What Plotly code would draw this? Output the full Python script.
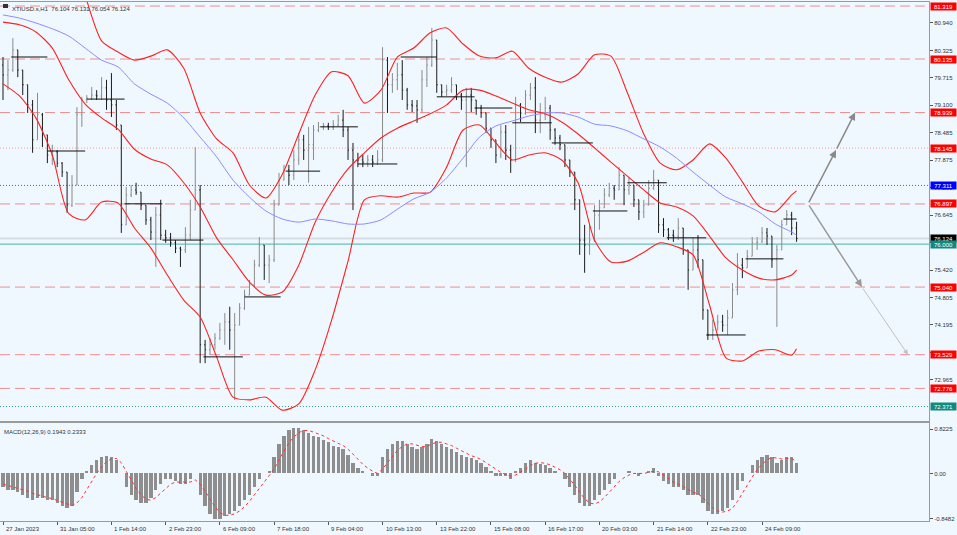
import plotly.graph_objects as go

# ---------------- data ----------------
bar_idx = list(range(0, 486, 3))  # H1 bar index of each plotted bar

opens = [80.00,79.78,79.89,80.34,79.89,79.56,79.11,78.33,78.89,78.44,
77.99,78.06,77.81,77.61,76.87,77.32,78.89,79.22,79.26,79.33,
79.31,79.49,79.22,79.11,78.66,76.43,77.10,77.21,77.16,76.87,
76.54,76.27,76.65,76.20,76.14,76.03,75.91,75.87,76.20,76.76,
77.21,73.75,73.64,73.75,73.90,74.08,74.26,74.08,74.19,74.57,
74.86,75.09,75.53,75.98,75.53,75.65,76.87,77.43,77.66,77.54,
77.88,78.33,78.10,78.22,78.55,78.62,78.64,78.62,78.66,78.77,
78.55,78.10,77.88,77.88,77.83,77.88,77.83,77.88,80.11,79.56,
79.67,79.78,79.44,79.11,79.09,79.00,79.67,80.00,80.56,79.56,
79.40,79.44,79.56,79.33,79.22,79.33,79.22,79.04,78.93,78.59,
78.33,77.99,78.50,78.10,77.88,79.11,78.93,79.33,79.49,78.77,
78.89,79.04,78.55,78.37,78.22,77.88,77.61,76.99,76.09,75.98,
76.09,76.65,76.81,77.10,77.25,77.21,77.54,77.21,77.32,76.99,
76.72,76.87,77.25,77.43,76.43,76.32,76.20,76.18,76.36,75.87,
75.42,75.87,75.65,74.53,73.97,74.08,74.26,74.19,74.35,74.98,
75.53,75.47,75.73,76.03,76.05,76.25,76.18,75.65,75.87,76.43,
76.65,76.36]

highs = [80.18,80.11,80.60,80.34,79.89,79.56,79.22,79.38,78.93,78.44,
78.22,78.10,77.83,77.61,77.54,79.06,79.29,79.33,79.51,79.44,
79.73,79.67,79.82,79.22,78.66,77.28,77.32,77.37,77.16,76.87,
76.61,76.83,76.99,76.32,76.25,76.09,75.94,76.38,76.99,78.17,
77.32,73.86,73.90,74.01,74.24,74.46,74.60,74.46,74.68,74.98,
75.20,75.65,76.16,75.98,75.76,76.99,77.59,77.77,77.77,78.10,
78.48,78.44,78.62,78.66,78.73,78.71,78.71,78.77,78.89,79.00,
78.62,78.26,78.04,77.99,77.99,77.99,78.10,80.40,80.18,79.82,
80.05,80.11,79.49,79.22,79.22,79.89,80.18,80.83,80.56,79.56,
79.56,79.73,79.56,79.38,79.49,79.49,79.22,79.11,78.93,78.59,
78.33,78.66,78.66,78.22,79.29,79.15,79.44,79.60,79.73,79.15,
79.29,79.11,78.59,78.44,78.22,77.88,77.61,76.99,76.43,76.43,
76.87,76.99,77.25,77.37,77.32,77.72,77.54,77.50,77.32,76.99,
76.99,77.43,77.66,77.43,76.58,76.36,76.32,76.58,76.36,75.87,
76.14,76.20,75.65,74.53,74.31,74.42,74.42,74.53,75.13,75.80,
75.69,75.87,76.16,76.16,76.38,76.36,76.18,75.98,76.54,76.76,
76.72,76.50]

lows = [79.22,79.44,79.85,79.73,79.33,78.93,78.04,78.33,78.17,77.81,
77.77,77.72,77.50,76.70,76.83,77.32,78.62,79.15,79.22,79.22,
79.22,79.00,78.84,78.55,76.25,76.43,77.05,77.10,76.76,76.43,
76.09,75.49,76.09,76.03,75.94,75.80,75.49,75.80,76.09,76.76,
73.34,73.34,73.52,73.64,73.86,73.75,73.64,72.52,74.19,74.53,
74.86,75.04,75.49,75.20,75.13,75.60,76.87,77.43,77.32,77.43,
77.77,77.88,77.37,77.88,78.50,78.55,78.55,78.55,78.62,78.39,
77.88,76.76,77.72,77.72,77.72,77.72,77.77,77.83,78.93,79.38,
79.44,79.22,79.00,78.95,78.71,78.95,79.51,79.96,79.38,79.29,
79.31,79.38,79.22,79.00,77.72,78.95,78.89,78.82,78.48,78.15,
77.81,77.92,77.88,77.59,77.83,78.73,78.89,79.22,78.48,78.48,
78.77,78.33,78.22,78.10,77.72,77.50,76.76,75.76,75.36,75.76,
76.05,76.32,76.81,77.05,76.99,77.21,76.87,77.10,76.83,76.54,
76.58,76.87,77.21,76.25,76.16,76.09,76.05,76.09,75.76,74.98,
75.42,75.47,74.31,73.86,73.86,74.08,74.04,73.97,74.35,74.86,
75.24,75.47,75.73,75.87,76.03,75.98,75.47,74.15,75.87,76.43,
76.20,76.05]

closes = [79.78,79.89,80.34,79.89,79.56,79.11,78.33,78.89,78.44,77.99,
78.06,77.81,77.61,76.87,77.32,78.89,79.22,79.26,79.33,79.31,
79.49,79.22,79.11,78.66,76.43,77.10,77.21,77.16,76.87,76.54,
76.27,76.65,76.20,76.14,76.03,75.91,75.87,76.20,76.76,77.21,
73.75,73.64,73.75,73.90,74.08,74.26,74.08,74.19,74.57,74.86,
75.09,75.53,75.98,75.53,75.65,76.87,77.43,77.66,77.54,77.88,
78.33,78.10,78.22,78.55,78.62,78.64,78.62,78.66,78.77,78.55,
78.10,77.88,77.88,77.83,77.88,77.83,77.88,80.11,79.56,79.67,
79.78,79.44,79.11,79.09,79.00,79.67,80.00,80.56,79.56,79.40,
79.44,79.56,79.33,79.22,79.33,79.22,79.04,78.93,78.59,78.33,
77.99,78.50,78.10,77.88,79.11,78.93,79.33,79.49,78.77,78.89,
79.04,78.55,78.37,78.22,77.88,77.61,76.99,76.09,75.98,76.09,
76.65,76.81,77.10,77.25,77.21,77.54,77.21,77.32,76.99,76.72,
76.87,77.25,77.43,76.43,76.32,76.20,76.18,76.36,75.87,75.42,
75.87,75.65,74.53,73.97,74.08,74.26,74.19,74.35,74.98,75.53,
75.47,75.73,76.03,76.05,76.25,76.18,75.65,75.87,76.43,76.65,
76.36,76.124]

# Bollinger-style bands and moving average (sampled every 10 H1 bars)
band_idx = list(range(0, 490, 10)) + [483]
bb_upper = [82.34,82.49,82.66,82.77,82.64,81.55,80.54,80.29,80.11,80.20,
80.34,79.93,78.93,78.35,78.04,77.32,77.03,77.56,78.46,79.33,
79.85,79.76,79.15,79.44,80.18,80.38,80.72,80.83,80.47,80.20,
80.16,80.31,79.93,79.73,79.62,79.80,80.23,80.20,79.38,78.46,
77.81,77.66,77.88,78.24,77.92,77.39,76.85,76.72,77.10,77.19]
bb_middle = [80.96,80.90,80.74,80.38,79.67,79.13,78.82,78.57,78.12,77.90,
77.77,77.37,76.83,76.14,75.65,75.15,74.86,74.93,75.53,76.49,
77.16,77.68,78.04,78.37,78.59,78.75,78.91,79.11,79.44,79.44,
79.31,79.15,79.00,78.91,78.73,78.46,78.15,77.83,77.52,77.21,
76.92,76.83,76.63,76.18,75.69,75.42,75.24,75.20,75.31,75.42]
bb_lower = [79.58,79.31,78.82,77.99,76.68,76.54,76.94,76.92,76.36,75.91,
75.31,74.75,74.37,73.48,72.58,72.52,72.58,72.29,72.43,73.19,
74.30,75.62,76.99,77.08,77.05,77.14,77.16,77.72,78.55,78.66,
78.26,77.88,77.99,78.04,77.88,77.37,76.09,75.60,75.62,75.82,
76.03,75.94,75.76,74.64,73.46,73.39,73.61,73.64,73.52,73.66]
ma_long = [81.12,81.05,80.94,80.81,80.65,80.38,80.11,79.96,79.58,79.35,
79.15,78.82,78.39,77.95,77.43,77.05,76.74,76.56,76.49,76.56,
76.52,76.45,76.45,76.54,76.78,77.01,77.16,77.48,77.92,78.39,
78.64,78.75,78.86,78.93,78.93,78.84,78.68,78.64,78.53,78.35,
78.17,77.92,77.61,77.32,77.05,76.90,76.72,76.45,76.27,76.20]

# daily reference segments (start bar, end bar, level)
seg_start = [5,27,51,74,97,122,147,172,193,216,242,264,287,310,334,359,380,404,428,452,475]
seg_end   = [27,50,74,97,122,146,169,193,216,240,264,287,310,334,359,380,404,428,452,475,483]
seg_level = [80.18,78.08,79.24,76.90,76.09,73.48,74.82,77.63,78.62,77.79,
             80.18,79.29,79.04,78.71,78.26,76.74,77.37,76.14,73.97,75.67,76.56]

# MACD main (histogram) and signal
macd_main = [-0.25,-0.3,-0.3,-0.35,-0.4,-0.45,-0.5,-0.45,-0.45,-0.5,
-0.5,-0.55,-0.6,-0.65,-0.6,-0.35,-0.1,0.05,0.15,0.25,
0.3,0.32,0.3,0.25,0.0,-0.25,-0.4,-0.5,-0.55,-0.55,
-0.45,-0.3,-0.2,-0.1,-0.1,-0.15,-0.2,-0.2,-0.1,0.0,
-0.4,-0.6,-0.75,-0.85,-0.85,-0.8,-0.75,-0.7,-0.6,-0.5,
-0.4,-0.25,-0.1,0.0,0.05,0.3,0.55,0.7,0.8,0.85,
0.85,0.8,0.75,0.7,0.68,0.62,0.58,0.52,0.5,0.45,
0.35,0.2,0.1,0.05,0.0,-0.05,-0.05,0.3,0.45,0.55,
0.6,0.6,0.55,0.5,0.45,0.5,0.55,0.65,0.6,0.55,
0.5,0.45,0.4,0.35,0.3,0.28,0.25,0.2,0.12,0.05,
-0.05,-0.05,-0.05,-0.1,0.05,0.1,0.2,0.25,0.2,0.18,
0.15,0.1,0.05,0.0,-0.1,-0.25,-0.4,-0.55,-0.6,-0.6,
-0.5,-0.4,-0.3,-0.2,-0.1,0.0,0.0,0.05,0.0,-0.05,
0.0,0.05,0.1,-0.05,-0.15,-0.2,-0.25,-0.25,-0.3,-0.4,
-0.4,-0.4,-0.55,-0.7,-0.75,-0.75,-0.7,-0.65,-0.5,-0.3,
-0.15,0.0,0.15,0.25,0.3,0.35,0.3,0.2,0.25,0.3,
0.3,0.1943]
macd_signal = [-0.2,-0.22,-0.25,-0.28,-0.3,-0.33,-0.37,-0.4,-0.43,-0.45,
-0.47,-0.5,-0.53,-0.57,-0.6,-0.55,-0.45,-0.3,-0.15,0.0,
0.12,0.22,0.27,0.28,0.2,0.05,-0.12,-0.28,-0.4,-0.48,
-0.5,-0.45,-0.37,-0.28,-0.2,-0.16,-0.16,-0.17,-0.16,-0.12,
-0.2,-0.33,-0.48,-0.62,-0.73,-0.78,-0.78,-0.75,-0.7,-0.62,
-0.52,-0.4,-0.28,-0.15,-0.05,0.08,0.25,0.42,0.57,0.68,
0.76,0.8,0.8,0.77,0.74,0.7,0.65,0.6,0.56,0.52,
0.45,0.36,0.26,0.17,0.1,0.04,0.0,0.08,0.2,0.32,
0.43,0.5,0.55,0.55,0.52,0.5,0.5,0.55,0.58,0.58,
0.55,0.52,0.47,0.42,0.37,0.33,0.3,0.26,0.2,0.14,
0.07,0.02,-0.02,-0.05,-0.03,0.02,0.08,0.15,0.19,0.2,
0.19,0.16,0.12,0.07,0.0,-0.1,-0.22,-0.35,-0.47,-0.55,
-0.57,-0.53,-0.45,-0.35,-0.25,-0.15,-0.08,-0.03,0.0,0.0,
0.0,0.02,0.04,0.03,-0.03,-0.1,-0.16,-0.2,-0.24,-0.3,
-0.35,-0.38,-0.45,-0.55,-0.64,-0.7,-0.72,-0.7,-0.65,-0.52,
-0.38,-0.22,-0.07,0.07,0.17,0.25,0.3,0.28,0.27,0.28,
0.27,0.2333]

# time axis
time_ticks = [0,33,66,99,132,165,198,231,264,297,330,363,396,429,462]
time_labels = ["27 Jan 2023","31 Jan 05:00","1 Feb 14:00","2 Feb 23:00","6 Feb 09:00",
               "7 Feb 18:00","9 Feb 04:00","10 Feb 13:00","13 Feb 22:00","15 Feb 08:00",
               "16 Feb 17:00","20 Feb 03:00","21 Feb 14:00","22 Feb 23:00","24 Feb 09:00"]

# price axis ticks
price_ticks = [80.940,80.325,79.715,79.100,78.485,77.875,77.260,76.645,76.030,
               75.420,74.805,74.195,73.580,72.965]

# horizontal levels
dash_levels = [81.319,80.135,78.939,76.897,75.040,73.529,72.776]
dot_level_red = 78.145
dot_level_blue = 77.311
teal_level = 76.000
teal_dot_level = 72.371
last_price = 76.124

# labels at the right edge: (value, background)
level_labels = [(81.319,"#ff0000"),(80.135,"#ff0000"),(78.939,"#ff0000"),(78.145,"#ff0000"),
                (77.311,"#0000ff"),(76.897,"#ff0000"),(76.124,"#000000"),(76.000,"#108a80"),
                (75.040,"#ff0000"),(73.529,"#ff0000"),(72.776,"#ff0000"),(72.371,"#108a80")]

# projection arrows (bar index, price)
proj_up_t = [490.0, 507.0, 518.6]
proj_up_p = [76.897, 78.10, 78.939]
proj_dn_t = [490.0, 522.8, 550.8]
proj_dn_p = [76.897, 75.04, 73.529]

# ---------------- figure ----------------
FONT = "Liberation Sans, Arial, sans-serif"
BG = "#f0f8ff"
fig = go.Figure()

fig.add_trace(go.Ohlc(
    x=bar_idx, open=opens, high=highs, low=lows, close=closes,
    xaxis="x2", yaxis="y",
    increasing=dict(line=dict(color="#8a8a8a", width=1)),
    decreasing=dict(line=dict(color="#1a1a1a", width=1)),
    tickwidth=0.2, hoverinfo="skip", showlegend=False))

for arr in (bb_upper, bb_middle, bb_lower):
    fig.add_trace(go.Scatter(x=band_idx, y=arr, mode="lines", xaxis="x2", yaxis="y",
                             line=dict(color="#ff2020", width=1.1, shape="spline", smoothing=0.7),
                             hoverinfo="skip", showlegend=False))
fig.add_trace(go.Scatter(x=band_idx, y=ma_long, mode="lines", xaxis="x2", yaxis="y",
                         line=dict(color="#8c8cff", width=1, shape="spline", smoothing=0.7),
                         hoverinfo="skip", showlegend=False))

seg_x, seg_y = [], []
for s, e, v in zip(seg_start, seg_end, seg_level):
    seg_x += [s, e, None]
    seg_y += [v, v, None]
fig.add_trace(go.Scatter(x=seg_x, y=seg_y, mode="lines", xaxis="x2", yaxis="y",
                         line=dict(color="#111111", width=1), hoverinfo="skip", showlegend=False))

fig.add_trace(go.Bar(x=bar_idx, y=macd_main, xaxis="x", yaxis="y2",
                     marker=dict(color="#8e8e8e", line=dict(width=0)), width=2.0,
                     hoverinfo="skip", showlegend=False))
fig.add_trace(go.Scatter(x=bar_idx, y=macd_signal, mode="lines", xaxis="x", yaxis="y2",
                         line=dict(color="#ff3030", width=1, dash="dot"),
                         hoverinfo="skip", showlegend=False))

shapes = []
for lv in dash_levels:
    shapes.append(dict(type="line", xref="paper", yref="y", x0=0, x1=1, y0=lv, y1=lv,
                       line=dict(color="#f28c8c", width=1, dash="10px,5px"), layer="below"))
shapes.append(dict(type="line", xref="paper", yref="y", x0=0, x1=1, y0=dot_level_red, y1=dot_level_red,
                   line=dict(color="#f4a0a0", width=1, dash="1px,2px"), layer="below"))
shapes.append(dict(type="line", xref="paper", yref="y", x0=0, x1=1, y0=dot_level_blue, y1=dot_level_blue,
                   line=dict(color="#5050ff", width=1, dash="1px,2px"), layer="below"))
shapes.append(dict(type="line", xref="paper", yref="y", x0=0, x1=1, y0=last_price, y1=last_price,
                   line=dict(color="#d6dce4", width=2), layer="below"))
shapes.append(dict(type="line", xref="paper", yref="y", x0=0, x1=1, y0=teal_level, y1=teal_level,
                   line=dict(color="#46b3aa", width=1), layer="below"))
shapes.append(dict(type="line", xref="paper", yref="y", x0=0, x1=1, y0=teal_dot_level, y1=teal_dot_level,
                   line=dict(color="#3a9c96", width=1, dash="1px,2px"), layer="below"))
# small symbol icon next to title
shapes.append(dict(type="rect", xref="paper", yref="paper", x0=3/929, x1=8/929,
                   y0=(521-8)/519, y1=(521-4)/519, fillcolor="#333333", line=dict(width=0)))

annotations = []
for val, col in level_labels:
    annotations.append(dict(xref="paper", yref="y", x=1, y=val, xanchor="left", yanchor="middle",
                            xshift=1, text=f"{val:.3f}", showarrow=False, bgcolor=col,
                            font=dict(family=FONT, size=6, color="#ffffff"),
                            width=25, height=7, borderpad=0, align="center"))
for t, lab in zip(time_ticks, time_labels):
    annotations.append(dict(xref="x", yref="paper", x=t, y=0, xanchor="left", yanchor="top",
                            yshift=-3, xshift=1, text=lab, showarrow=False,
                            font=dict(family=FONT, size=6, color="#333333")))
annotations.append(dict(xref="paper", yref="paper", x=0, y=1, xanchor="left", yanchor="top",
                        xshift=10, yshift=-2, showarrow=False,
                        text="XTIUSD.s,H1  76.104 76.131 76.054 76.124",
                        font=dict(family=FONT, size=6, color="#333333")))
annotations.append(dict(xref="paper", yref="paper", x=0, y=0.1888, xanchor="left", yanchor="top",
                        xshift=2, yshift=-4, showarrow=False,
                        text="MACD(12,26,9) 0.1943 0.2333",
                        font=dict(family=FONT, size=6, color="#333333")))
for i in range(2):
    annotations.append(dict(xref="x2", yref="y", axref="x2", ayref="y",
                            x=proj_up_t[i+1], y=proj_up_p[i+1], ax=proj_up_t[i], ay=proj_up_p[i],
                            showarrow=True, arrowhead=2, arrowsize=1, arrowwidth=1.5,
                            arrowcolor="#8a8a8a", text="", standoff=0))
annotations.append(dict(xref="x2", yref="y", axref="x2", ayref="y",
                        x=proj_dn_t[1], y=proj_dn_p[1], ax=proj_dn_t[0], ay=proj_dn_p[0],
                        showarrow=True, arrowhead=2, arrowsize=1, arrowwidth=1.5,
                        arrowcolor="#9a9a9a", text="", standoff=0))
annotations.append(dict(xref="x2", yref="y", axref="x2", ayref="y",
                        x=proj_dn_t[2], y=proj_dn_p[2], ax=proj_dn_t[1], ay=proj_dn_p[1],
                        showarrow=True, arrowhead=2, arrowsize=1, arrowwidth=1,
                        arrowcolor="#c0c0c0", text="", standoff=0))

axis_common = dict(showgrid=False, zeroline=False, showline=True, mirror=True,
                   linecolor="#9a9a9a", linewidth=1)

fig.update_layout(
    width=957, height=535,
    margin=dict(l=0, r=28, t=2, b=14),
    paper_bgcolor=BG, plot_bgcolor=BG,
    showlegend=False, bargap=0,
    font=dict(family=FONT, size=6, color="#333333"),
    xaxis=dict(domain=[0, 1], anchor="y2", range=[-1.83, 563.6], tickvals=time_ticks,
               showticklabels=False, ticks="outside", ticklen=3, tickcolor="#555555",
               rangeslider=dict(visible=False), **axis_common),
    xaxis2=dict(domain=[0, 1], anchor="y", matches="x", range=[-1.83, 563.6],
                showticklabels=False, ticks="", rangeslider=dict(visible=False), **axis_common),
    yaxis=dict(domain=[0.1927, 1], anchor="x2", side="right", range=[72.048, 81.409],
               tickvals=price_ticks, ticktext=[f"{v:.3f}" for v in price_ticks],
               ticks="outside", ticklen=3, tickcolor="#555555",
               tickfont=dict(family=FONT, size=6, color="#333333"), **axis_common),
    yaxis2=dict(domain=[0, 0.1888], anchor="x", side="right", range=[-0.886, 0.939],
                tickvals=[0.8225, 0.0, -0.8482], ticktext=["0.8225", "0.00", "-0.8482"],
                ticks="outside", ticklen=3, tickcolor="#555555",
                tickfont=dict(family=FONT, size=6, color="#333333"), **axis_common),
    shapes=shapes, annotations=annotations,
)

fig.write_html("out.html", config={"displayModeBar": False, "staticPlot": True},
               post_script="document.body.style.margin='0';document.body.style.background='#f0f8ff';")
